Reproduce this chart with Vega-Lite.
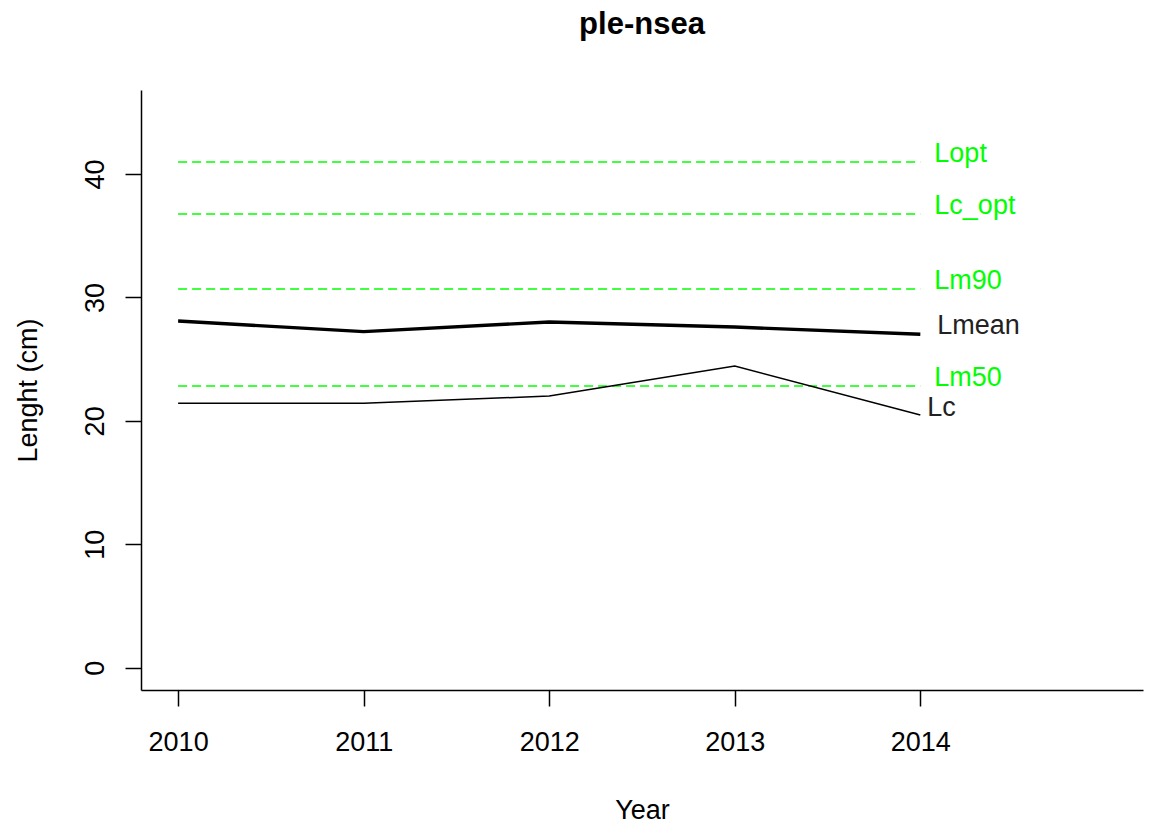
{
  "$schema": "https://vega.github.io/schema/vega-lite/v6.json",
  "autosize": {"type": "none"},
  "width": 1002,
  "height": 600,
  "padding": {"left": 141, "top": 90, "right": 16, "bottom": 135},
  "background": "white",
  "title": {
    "text": "ple-nsea",
    "font": "Liberation Sans",
    "fontSize": 31,
    "fontWeight": "bold",
    "color": "black",
    "anchor": "middle",
    "baseline": "alphabetic",
    "offset": 25
  },
  "config": {
    "view": {"stroke": null},
    "axis": {
      "grid": false,
      "domainColor": "black",
      "domainWidth": 1.5,
      "tickColor": "black",
      "tickWidth": 1.5,
      "tickSize": 16,
      "labelFont": "Liberation Sans",
      "labelFontSize": 27,
      "labelColor": "black",
      "titleFont": "Liberation Sans",
      "titleFontSize": 27,
      "titleFontWeight": "normal",
      "titleColor": "black"
    }
  },
  "datasets": {
    "series": [
      {"Year": 2010, "metric": "Lmean", "value": 28.09},
      {"Year": 2011, "metric": "Lmean", "value": 27.23},
      {"Year": 2012, "metric": "Lmean", "value": 28.01},
      {"Year": 2013, "metric": "Lmean", "value": 27.6},
      {"Year": 2014, "metric": "Lmean", "value": 27.01},
      {"Year": 2010, "metric": "Lc", "value": 21.42},
      {"Year": 2011, "metric": "Lc", "value": 21.42},
      {"Year": 2012, "metric": "Lc", "value": 22.01},
      {"Year": 2013, "metric": "Lc", "value": 24.44},
      {"Year": 2014, "metric": "Lc", "value": 20.48}
    ],
    "refs": [
      {"ref": "Lopt", "value": 40.97, "start": 2010, "end": 2014},
      {"ref": "Lc_opt", "value": 36.76, "start": 2010, "end": 2014},
      {"ref": "Lm90", "value": 30.68, "start": 2010, "end": 2014},
      {"ref": "Lm50", "value": 22.82, "start": 2010, "end": 2014}
    ]
  },
  "layer": [
    {
      "data": {"name": "refs"},
      "mark": {"type": "rule", "color": "#00FF00", "strokeWidth": 1.6, "strokeDash": [9, 5]},
      "encoding": {
        "x": {"field": "start", "type": "quantitative",
          "scale": {"domain": [2009.8, 2015.2], "nice": false, "zero": false},
          "axis": {"values": [2010, 2011, 2012, 2013, 2014], "format": "d", "title": "Year",
            "labelPadding": 23, "titleBaseline": "alphabetic", "titleY": 128}},
        "x2": {"field": "end"},
        "y": {"field": "value", "type": "quantitative",
          "scale": {"domain": [-1.8, 46.8], "nice": false, "zero": false},
          "axis": {"values": [0, 10, 20, 30, 40], "title": "Lenght (cm)",
            "labelAngle": 270, "labelAlign": "center", "labelBaseline": "alphabetic", "labelPadding": 22,
            "titleAngle": 270, "titleAlign": "center", "titleBaseline": "alphabetic", "titleX": -105, "titleY": 300}}
      }
    },
    {
      "data": {"name": "refs"},
      "mark": {"type": "text", "color": "#00FF00", "font": "Liberation Sans", "fontSize": 27, "align": "left", "baseline": "middle", "dx": 14, "dy": -8},
      "encoding": {
        "x": {"field": "end", "type": "quantitative"},
        "y": {"field": "value", "type": "quantitative"},
        "text": {"field": "ref"}
      }
    },
    {
      "data": {"name": "series"},
      "transform": [{"filter": "datum.metric === 'Lmean'"}],
      "mark": {"type": "line", "color": "black", "strokeWidth": 3.4},
      "encoding": {
        "x": {"field": "Year", "type": "quantitative"},
        "y": {"field": "value", "type": "quantitative"}
      }
    },
    {
      "data": {"name": "series"},
      "transform": [{"filter": "datum.metric === 'Lc'"}],
      "mark": {"type": "line", "color": "black", "strokeWidth": 1.5},
      "encoding": {
        "x": {"field": "Year", "type": "quantitative"},
        "y": {"field": "value", "type": "quantitative"}
      }
    },
    {
      "data": {"name": "series"},
      "transform": [{"filter": "datum.metric === 'Lmean' && datum.Year === 2014"}],
      "mark": {"type": "text", "color": "#222222", "font": "Liberation Sans", "fontSize": 27, "align": "left", "baseline": "middle", "dx": 17, "dy": -8},
      "encoding": {
        "x": {"field": "Year", "type": "quantitative"},
        "y": {"field": "value", "type": "quantitative"},
        "text": {"field": "metric"}
      }
    },
    {
      "data": {"name": "series"},
      "transform": [{"filter": "datum.metric === 'Lc' && datum.Year === 2014"}],
      "mark": {"type": "text", "color": "#222222", "font": "Liberation Sans", "fontSize": 27, "align": "left", "baseline": "middle", "dx": 7, "dy": -7},
      "encoding": {
        "x": {"field": "Year", "type": "quantitative"},
        "y": {"field": "value", "type": "quantitative"},
        "text": {"field": "metric"}
      }
    }
  ]
}
